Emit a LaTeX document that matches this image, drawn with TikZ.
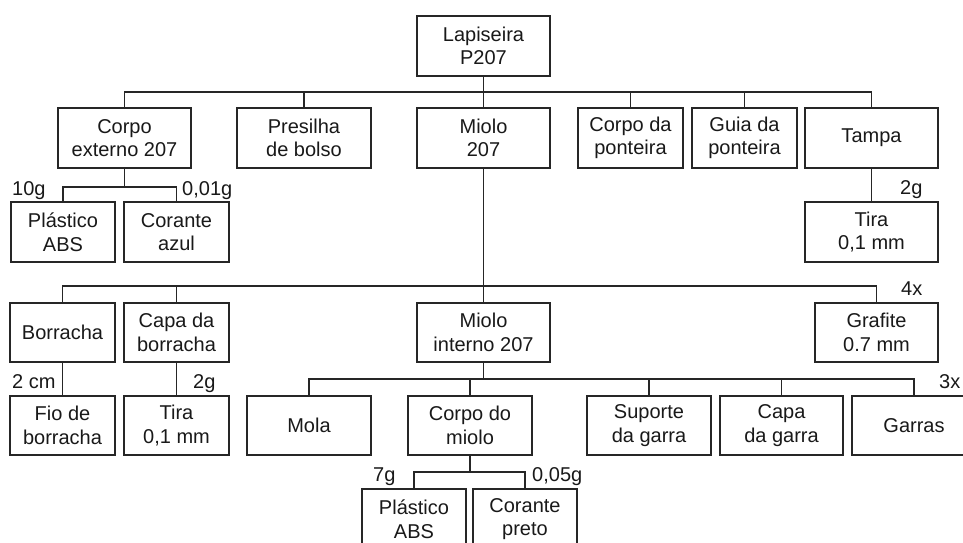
\documentclass[tikz,border=0pt]{standalone}
\usepackage{fontspec}
\setmainfont{Liberation Sans}
\begin{document}
\begin{tikzpicture}[x=1pt,y=-1pt,
  ink/.style={draw=black!85, line width=1.6pt},
  part/.style={ink, fill=white, text=black!90, align=center, inner sep=0pt,
    minimum height=60pt, font=\fontsize{20}{23.5}\selectfont},
  qty/.style={text=black!90, inner sep=0pt, font=\fontsize{20}{23.5}\selectfont, anchor=base west},
  link/.style={ink, line cap=rect}]
\useasboundingbox (0,0) rectangle (963,542);
\clip (0,0) rectangle (963,542);
\fill[white] (0,0) rectangle (963,542);

% bus levels
\coordinate (b1) at (0,92);
\coordinate (b2) at (0,187);
\coordinate (b3) at (0,286);
\coordinate (b4) at (0,379);
\coordinate (b5) at (0,472);

% root
\node[part, minimum width=133pt] (lap) at (483.5,46) {Lapiseira\\P207};

% first level
\node[part, minimum width=133pt] (ce) at (124.5,138) {Corpo\\externo 207};
\node[part, minimum width=134pt] (pr) at (304,138) {Presilha\\de bolso};
\node[part, minimum width=133pt] (mi) at (483.5,138) {Miolo\\207};
\node[part, minimum width=105pt] (cp) at (630.5,138) {Corpo da\\ponteira};
\node[part, minimum width=105pt] (gp) at (744.5,138) {Guia da\\ponteira};
\node[part, minimum width=133pt] (ta) at (871.5,138) {Tampa};

% parts of the outer body and the cap
\node[part, minimum width=104pt] (pa1) at (63,232) {Plástico\\ABS};
\node[part, minimum width=105pt] (ca) at (176.5,232) {Corante\\azul};
\node[part, minimum width=133pt] (ti1) at (871.5,232) {Tira\\0,1 mm};

% second level of the core
\node[part, minimum width=105pt, minimum height=59pt] (bo) at (62.5,332.5) {Borracha};
\node[part, minimum width=105pt, minimum height=59pt] (cb) at (176.5,332.5) {Capa da\\borracha};
\node[part, minimum width=133pt, minimum height=59pt] (mn) at (483.5,332.5) {Miolo\\interno 207};
\node[part, minimum width=123pt, minimum height=59pt] (gr) at (876.5,332.5) {Grafite\\0.7 mm};

% third level
\node[part, minimum width=105pt, minimum height=59pt] (fb) at (62.5,425.5) {Fio de\\borracha};
\node[part, minimum width=105pt, minimum height=59pt] (ti2) at (176.5,425.5) {Tira\\0,1 mm};
\node[part, minimum width=124pt, minimum height=59pt] (mo) at (309,425.5) {Mola};
\node[part, minimum width=124pt, minimum height=59pt] (cm) at (470,425.5) {Corpo do\\miolo};
\node[part, minimum width=124pt, minimum height=59pt] (sg) at (649,425.5) {Suporte\\da garra};
\node[part, minimum width=123pt, minimum height=59pt] (cg) at (781.5,425.5) {Capa\\da garra};
\node[part, minimum width=124pt, minimum height=59pt] (ga) at (914,425.5) {Garras};

% fourth level
\node[part, minimum width=104pt] (pa2) at (414,519) {Plástico\\ABS};
\node[part, minimum width=104pt] (cpr) at (525,519) {Corante\\preto};

% connectors: root
\draw[link] (lap.south) -- (lap.south |- b1);
\draw[link] (ce.north) |- (b1 -| ta.north) -- (ta.north);
\foreach \n in {pr,mi,cp,gp} \draw[link] (\n.north) -- (\n.north |- b1);

% connectors: outer body and cap
\draw[link] (ce.south) -- (ce.south |- b2);
\draw[link] (pa1.north) |- (b2 -| ca.north) -- (ca.north);
\draw[link] (ta.south) -- (ti1.north);

% connectors: core
\draw[link] (mi.south) -- (mn.north);
\draw[link] (bo.north) |- (b3 -| gr.north) -- (gr.north);
\draw[link] (cb.north) -- (cb.north |- b3);
\draw[link] (bo.south) -- (fb.north);
\draw[link] (cb.south) -- (ti2.north);

% connectors: inner core
\draw[link] (mn.south) -- (mn.south |- b4);
\draw[link] (mo.north) |- (b4 -| ga.north) -- (ga.north);
\foreach \n in {cm,sg,cg} \draw[link] (\n.north) -- (\n.north |- b4);

% connectors: body of the core
\draw[link] (cm.south) -- (cm.south |- b5);
\draw[link] (pa2.north) |- (b5 -| cpr.north) -- (cpr.north);

% quantities
\node[qty] (q1) at (12,195) {10g};
\node[qty] (q2) at (182,195) {0,01g};
\node[qty] (q3) at (900,194) {2g};
\node[qty] (q4) at (901,295) {4x};
\node[qty] (q5) at (12,388) {2 cm};
\node[qty] (q6) at (193,388) {2g};
\node[qty] (q7) at (939,388) {3x};
\node[qty] (q8) at (373,481) {7g};
\node[qty] (q9) at (532,481) {0,05g};
\end{tikzpicture}
\end{document}
